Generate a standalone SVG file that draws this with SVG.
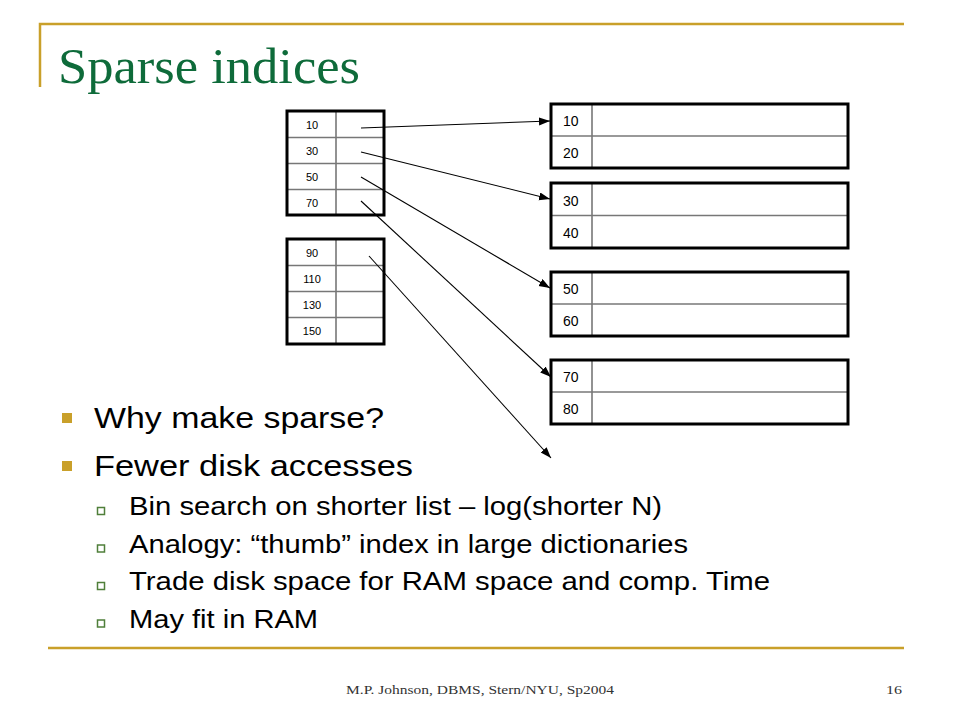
<svg xmlns="http://www.w3.org/2000/svg" width="960" height="720" viewBox="0 0 960 720">
<defs>
<style>
.gold{stroke:#C9A02A;stroke-width:2.5;fill:none}
.outer{fill:none;stroke:#000;stroke-width:3}
.inner{stroke:#777;stroke-width:1.6}
.ix{font-family:"Liberation Sans",Arial,sans-serif;font-size:11px;fill:#000;text-anchor:middle}
.dt{font-family:"Liberation Sans",Arial,sans-serif;font-size:14px;fill:#000}
.b1{font-family:"Liberation Sans",Arial,sans-serif;font-size:29px;fill:#000}
.b2{font-family:"Liberation Sans",Arial,sans-serif;font-size:25px;fill:#000}
.conn{stroke:#000;stroke-width:1.1;fill:none;marker-end:url(#ah)}
</style>
<marker id="ah" markerUnits="userSpaceOnUse" markerWidth="12" markerHeight="10" refX="11" refY="4" orient="auto">
<path d="M0,0 L11,4 L0,8 z" fill="#000"/>
</marker>
</defs>
<rect width="960" height="720" fill="#fff"/>
<!-- frame -->
<path class="gold" d="M40,87 V24 H904"/>
<line class="gold" x1="48" y1="648" x2="904" y2="648"/>
<text x="58" y="83" font-family="'Liberation Serif','Times New Roman',serif" font-size="50" fill="#0E6B3A" textLength="302" lengthAdjust="spacingAndGlyphs">Sparse indices</text>

<!-- index block 1 -->
<g id="index1">
<line class="inner" x1="287" y1="137.5" x2="384" y2="137.5"/>
<line class="inner" x1="287" y1="163.5" x2="384" y2="163.5"/>
<line class="inner" x1="287" y1="189.5" x2="384" y2="189.5"/>
<line class="inner" x1="336" y1="111" x2="336" y2="215"/>
<rect class="outer" x="287" y="111" width="97" height="104"/>
<text class="ix" x="312" y="129">10</text>
<text class="ix" x="312" y="155">30</text>
<text class="ix" x="312" y="181">50</text>
<text class="ix" x="312" y="207">70</text>
</g>
<!-- index block 2 -->
<g id="index2">
<line class="inner" x1="287" y1="265.5" x2="384" y2="265.5"/>
<line class="inner" x1="287" y1="291.5" x2="384" y2="291.5"/>
<line class="inner" x1="287" y1="317.5" x2="384" y2="317.5"/>
<line class="inner" x1="336" y1="239" x2="336" y2="344"/>
<rect class="outer" x="287" y="239" width="97" height="105"/>
<text class="ix" x="312" y="257">90</text>
<text class="ix" x="312" y="283">110</text>
<text class="ix" x="312" y="309">130</text>
<text class="ix" x="312" y="335">150</text>
</g>

<!-- data blocks -->
<g id="data1">
<line class="inner" x1="551" y1="136" x2="848" y2="136"/>
<line class="inner" x1="592" y1="104" x2="592" y2="168"/>
<rect class="outer" x="551" y="104" width="297" height="64"/>
<text class="dt" x="563" y="126">10</text>
<text class="dt" x="563" y="158">20</text>
</g>
<g id="data2">
<line class="inner" x1="551" y1="215.5" x2="848" y2="215.5"/>
<line class="inner" x1="592" y1="183" x2="592" y2="248"/>
<rect class="outer" x="551" y="183" width="297" height="65"/>
<text class="dt" x="563" y="206">30</text>
<text class="dt" x="563" y="238">40</text>
</g>
<g id="data3">
<line class="inner" x1="551" y1="304" x2="848" y2="304"/>
<line class="inner" x1="592" y1="272" x2="592" y2="336"/>
<rect class="outer" x="551" y="272" width="297" height="64"/>
<text class="dt" x="563" y="294">50</text>
<text class="dt" x="563" y="326">60</text>
</g>
<g id="data4">
<line class="inner" x1="551" y1="392" x2="848" y2="392"/>
<line class="inner" x1="592" y1="360" x2="592" y2="424"/>
<rect class="outer" x="551" y="360" width="297" height="64"/>
<text class="dt" x="563" y="382">70</text>
<text class="dt" x="563" y="414">80</text>
</g>

<!-- connectors -->
<g id="connectors">
<line class="conn" x1="361" y1="128" x2="550" y2="121"/>
<line class="conn" x1="361" y1="152" x2="550" y2="199"/>
<line class="conn" x1="361" y1="177" x2="550" y2="288"/>
<line class="conn" x1="361" y1="201" x2="551" y2="377"/>
<line class="conn" x1="369" y1="256" x2="551" y2="458"/>
</g>

<!-- bullets -->
<g id="bullets">
<rect x="62" y="413" width="10" height="10" fill="#C9A02A"/>
<rect x="62" y="461" width="10" height="10" fill="#C9A02A"/>
<text class="b1" x="94" y="428" textLength="290" lengthAdjust="spacingAndGlyphs">Why make sparse?</text>
<text class="b1" x="94" y="476" textLength="319" lengthAdjust="spacingAndGlyphs">Fewer disk accesses</text>
<g fill="#fff" stroke="#4F7F3A" stroke-width="1.5">
<rect x="97.5" y="507.5" width="7" height="7"/>
<rect x="97.5" y="545" width="7" height="7"/>
<rect x="97.5" y="582.5" width="7" height="7"/>
<rect x="97.5" y="620" width="7" height="7"/>
</g>
<text class="b2" x="129" y="515" textLength="533" lengthAdjust="spacingAndGlyphs">Bin search on shorter list – log(shorter N)</text>
<text class="b2" x="129" y="552.5" textLength="559" lengthAdjust="spacingAndGlyphs">Analogy: “thumb” index in large dictionaries</text>
<text class="b2" x="129" y="590" textLength="641" lengthAdjust="spacingAndGlyphs">Trade disk space for RAM space and comp. Time</text>
<text class="b2" x="129" y="627.5" textLength="189" lengthAdjust="spacingAndGlyphs">May fit in RAM</text>
</g>

<!-- footer -->
<text x="346" y="694" font-family="'Liberation Serif','Times New Roman',serif" font-size="13.5" fill="#333" textLength="268" lengthAdjust="spacingAndGlyphs">M.P. Johnson, DBMS, Stern/NYU, Sp2004</text>
<text x="886" y="694" font-family="'Liberation Serif','Times New Roman',serif" font-size="13.5" fill="#333" textLength="16" lengthAdjust="spacingAndGlyphs">16</text>
</svg>
